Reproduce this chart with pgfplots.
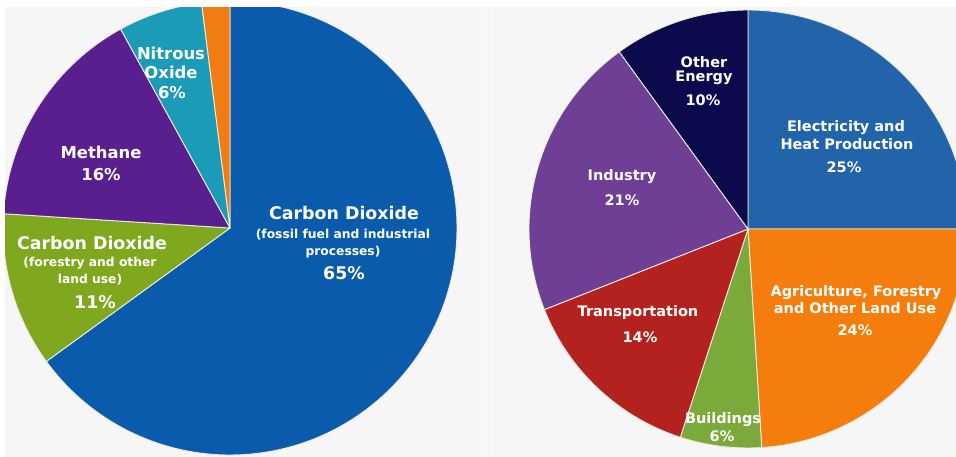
\documentclass[border=0pt]{standalone}
\usepackage{pgfplots}
\pgfplotsset{compat=1.18}
\usepackage{fontspec}
\setmainfont{DejaVu Sans}
\definecolor{bg}{HTML}{F6F6F6}
\definecolor{sep}{HTML}{EDEBDD}
% left pie
\definecolor{cofossil}{HTML}{0B5BAC}
\definecolor{coland}{HTML}{80A81E}
\definecolor{methane}{HTML}{5A1F8E}
\definecolor{nitrous}{HTML}{1B9BB8}
\definecolor{fgas}{HTML}{EF7D14}
% right pie
\definecolor{elec}{HTML}{2164AA}
\definecolor{agri}{HTML}{F47D0E}
\definecolor{build}{HTML}{7BAA3A}
\definecolor{trans}{HTML}{B3221F}
\definecolor{indus}{HTML}{6E3F95}
\definecolor{other}{HTML}{0A0A4C}
% slice: cx, cy, r, start percent, percent, colour
\newcommand{\slice}[6]{%
  \fill[#6, draw=sep, line width=0.9pt, line join=round]
    (axis cs:#1,#2) -- ++({90-3.6*(#4)}:#3pt)
    arc[start angle={90-3.6*(#4)}, delta angle={-3.6*(#5)}, radius=#3pt] -- cycle;}
% label: x, y (pixels from top), size, text
\newcommand{\lab}[4]{%
  \node[text=white, inner sep=0pt, anchor=center,
        font=\fontsize{#3}{#3}\selectfont\bfseries] at (axis cs:#1,{457-#2}) {#4};}
\begin{document}
\begin{tikzpicture}
\begin{axis}[
  x=1pt, y=1pt,
  xmin=0, xmax=956, ymin=0, ymax=457,
  hide axis, clip mode=global,
]
\fill[bg] (axis cs:0,0) rectangle (axis cs:956,457);
\fill[white, opacity=0.3] (axis cs:484,0) rectangle (axis cs:493,457);
% ---- left pie: greenhouse gases (percent) ----
\slice{230}{229}{227}{0}{65}{cofossil}
\slice{230}{229}{227}{65}{11}{coland}
\slice{230}{229}{227}{76}{16}{methane}
\slice{230}{229}{227}{92}{6}{nitrous}
\slice{230}{229}{227}{98}{2}{fgas}
% ---- right pie: economic sectors (percent) ----
\slice{748}{228}{219}{0}{25}{elec}
\slice{748}{228}{219}{25}{24}{agri}
\slice{748}{228}{219}{49}{6}{build}
\slice{748}{228}{219}{55}{14}{trans}
\slice{748}{228}{219}{69}{21}{indus}
\slice{748}{228}{219}{90}{10}{other}
% white frame strips (top and left)
\fill[white] (axis cs:0,450) rectangle (axis cs:956,457);
\fill[white] (axis cs:0,0) rectangle (axis cs:5,457);
% ---- left labels ----
\lab{344}{213}{17.4}{Carbon Dioxide}
\lab{343}{235}{12.3}{(fossil fuel and industrial}
\lab{343}{252}{12.3}{processes)}
\lab{344}{273}{17.4}{65\%}
\lab{171}{53}{16.4}{Nitrous}
\lab{171}{72}{16.4}{Oxide}
\lab{172}{93}{16.4}{6\%}
\lab{101}{152}{16.4}{Methane}
\lab{101}{175}{16.4}{16\%}
\lab{92}{243}{17.4}{Carbon Dioxide}
\lab{90}{263}{12.3}{(forestry and other}
\lab{90}{280}{12.3}{land use)}
\lab{95}{302}{17.4}{11\%}
% ---- right labels ----
\lab{704}{62}{14.5}{Other}
\lab{704}{78}{14.5}{Energy}
\lab{703}{100}{14.5}{10\%}
\lab{846}{128}{14.5}{Electricity and}
\lab{847}{144}{14.5}{Heat Production}
\lab{844}{167}{14.5}{25\%}
\lab{622}{177}{14.5}{Industry}
\lab{622}{200}{14.5}{21\%}
\lab{638}{313}{14.5}{Transportation}
\lab{640}{337}{14.5}{14\%}
\lab{856}{293}{14.5}{Agriculture, Forestry}
\lab{855}{308}{14.5}{and Other Land Use}
\lab{855}{330}{14.5}{24\%}
\lab{723}{420}{14.5}{Buildings}
\lab{722}{436}{14.5}{6\%}
\end{axis}
\end{tikzpicture}
\end{document}
